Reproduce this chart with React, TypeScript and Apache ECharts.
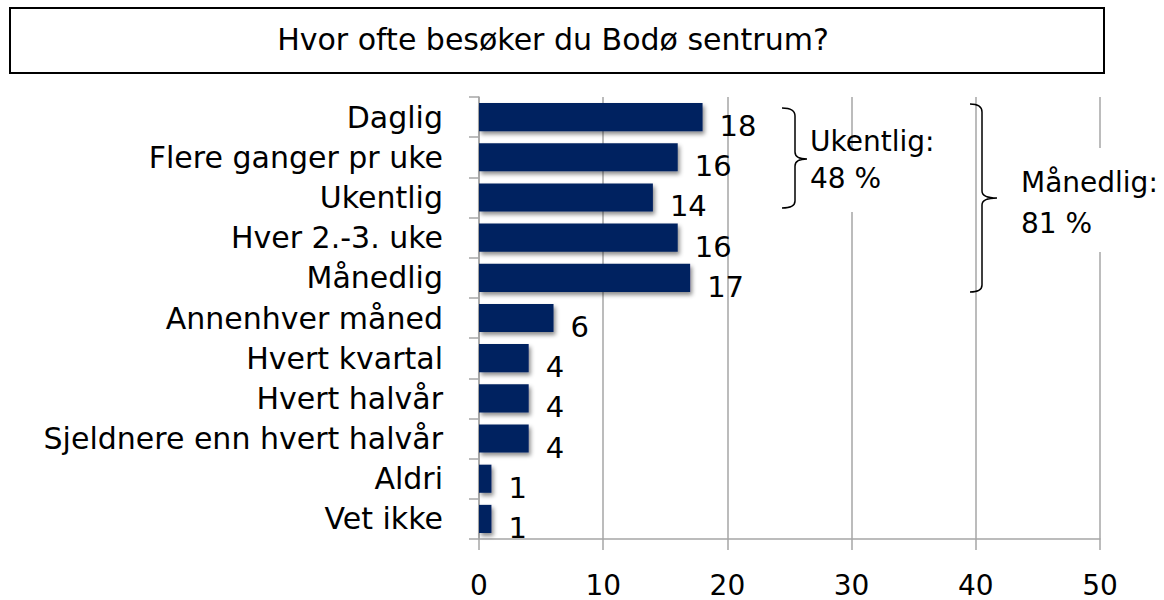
import React, { useEffect, useRef } from "react";
import * as echarts from "echarts";

const categories = [
  "Daglig",
  "Flere ganger pr uke",
  "Ukentlig",
  "Hver 2.-3. uke",
  "Månedlig",
  "Annenhver måned",
  "Hvert kvartal",
  "Hvert halvår",
  "Sjeldnere enn hvert halvår",
  "Aldri",
  "Vet ikke",
];
const values = [18, 16, 14, 16, 17, 6, 4, 4, 4, 1, 1];
const titleText = "Hvor ofte besøker du Bodø sentrum?";
const weeklyNote = ["Ukentlig:", "48 %"];
const monthlyNote = ["Månedlig:", "81 %"];

const FONT = "'DejaVu Sans'";

echarts.graphic.registerShape(
  "braceWeekly",
  echarts.graphic.extendPath(
    "M782,108 C790,108 795,110 795,116 L795,152 C795,157 799,159 807,159 C799,159 795,161 795,166 L795,201 C795,206 790,208 782,208",
    {}
  )
);
echarts.graphic.registerShape(
  "braceMonthly",
  echarts.graphic.extendPath(
    "M970,104 C978,104 982,106 982,112 L982,191 C982,196 987,198 997,198 C987,198 982,200 982,205 L982,285 C982,290 978,292 970,292",
    {}
  )
);

export default function App() {
  const ref = useRef<HTMLDivElement>(null);
  useEffect(() => {
    const chart = echarts.init(ref.current!, null, { renderer: "svg" });
    chart.setOption({
      animation: false,
      backgroundColor: "#ffffff",
      textStyle: { fontFamily: FONT },
      grid: { left: 479, right: 64, top: 97, bottom: 61, containLabel: false },
      xAxis: {
        type: "value",
        min: 0,
        max: 50,
        interval: 10,
        axisLine: { show: true, lineStyle: { color: "#a6a6a6", width: 1.5 } },
        axisTick: { show: true, length: 11, lineStyle: { color: "#a6a6a6", width: 1.5 } },
        axisLabel: { color: "#000", fontSize: 28, lineHeight: 24, fontFamily: FONT, margin: 34 },
        splitLine: { show: true, lineStyle: { color: "#a6a6a6", width: 1.5 } },
      },
      yAxis: {
        type: "category",
        data: categories,
        inverse: true,
        axisLine: { show: true, lineStyle: { color: "#a6a6a6", width: 1.5 } },
        axisTick: { show: true, length: 10, lineStyle: { color: "#a6a6a6", width: 1.5 } },
        axisLabel: { color: "#000", fontSize: 30, fontFamily: FONT, margin: 36 },
      },
      series: [
        {
          type: "bar",
          data: values,
          barCategoryGap: "30%",
          itemStyle: {
            color: "#002060",
            shadowColor: "rgba(0,0,0,0.45)",
            shadowBlur: 4,
            shadowOffsetX: 2,
            shadowOffsetY: 3,
          },
          label: {
            show: true,
            position: "right",
            distance: 17,
            offset: [0, 9],
            color: "#000",
            fontSize: 29,
            fontFamily: FONT,
          },
        },
      ],
      graphic: [
        {
          type: "rect",
          shape: { x: 10, y: 8, width: 1094, height: 65 },
          style: { fill: "#fff", stroke: "#000", lineWidth: 2 },
          z: 10,
        },
        {
          type: "text",
          x: 553,
          y: 39,
          style: {
            text: titleText,
            font: `30px ${FONT}`,
            fill: "#000",
            align: "center",
            verticalAlign: "middle",
          },
          z: 11,
        },
        {
          type: "rect",
          shape: { x: 806, y: 148, width: 136, height: 64 },
          style: { fill: "#fff" },
          z: 10,
        },
        {
          type: "rect",
          shape: { x: 1016, y: 148, width: 140, height: 104 },
          style: { fill: "#fff" },
          z: 10,
        },
        {
          type: "braceWeekly",
          style: { fill: "none", stroke: "#000", lineWidth: 1.5 },
          z: 11,
        },
        {
          type: "braceMonthly",
          style: { fill: "none", stroke: "#000", lineWidth: 1.5 },
          z: 11,
        },
        {
          type: "text",
          x: 810,
          y: 141,
          style: { text: weeklyNote[0], font: `28px ${FONT}`, fill: "#000", verticalAlign: "middle" },
          z: 11,
        },
        {
          type: "text",
          x: 810,
          y: 178,
          style: { text: weeklyNote[1], font: `28px ${FONT}`, fill: "#000", verticalAlign: "middle" },
          z: 11,
        },
        {
          type: "text",
          x: 1021,
          y: 182,
          style: { text: monthlyNote[0], font: `28px ${FONT}`, fill: "#000", verticalAlign: "middle" },
          z: 11,
        },
        {
          type: "text",
          x: 1021,
          y: 223,
          style: { text: monthlyNote[1], font: `28px ${FONT}`, fill: "#000", verticalAlign: "middle" },
          z: 11,
        },
      ],
    });
    return () => chart.dispose();
  }, []);
  return (
    <div
      ref={ref}
      style={{ position: "fixed", left: 0, top: 0, width: 1164, height: 600 }}
    />
  );
}
